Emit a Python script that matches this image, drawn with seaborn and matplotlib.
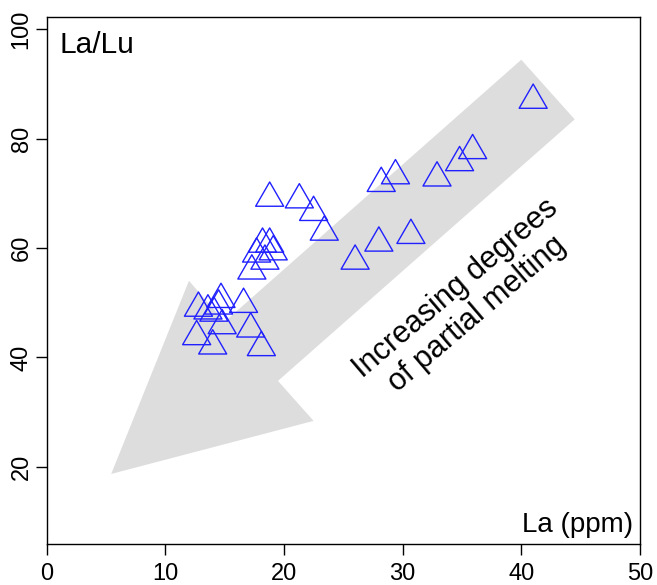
import matplotlib
matplotlib.use("Agg")
import matplotlib.pyplot as plt
from matplotlib.path import Path
import pandas as pd
import seaborn as sns

# La (ppm) and La/Lu
la = [41.0, 35.9, 34.8, 32.9, 29.4, 28.2, 30.7, 28.0, 26.0, 22.5, 23.4, 21.3, 18.8,
      18.2, 18.8, 19.1, 17.7, 18.4, 17.3,
      12.8, 13.6, 14.7, 14.5, 14.1, 16.6, 14.8, 12.65, 14.0, 17.2, 18.1]
la_lu = [87.0, 77.8, 75.6, 72.8, 73.2, 71.8, 62.3, 60.9, 57.6, 66.5, 62.9, 68.8, 69.1,
         60.7, 60.7, 59.3, 58.9, 57.6, 55.8,
         49.0, 48.5, 50.6, 49.4, 48.1, 49.7, 45.8, 43.8, 42.1, 45.2, 41.8]

# outline of the grey arrow, data coordinates
arrow_x = [40.0, 44.5, 19.5, 22.5, 5.45, 12.0, 15.0]
arrow_y = [94.4, 83.5, 35.7, 28.4, 18.7, 54.0, 46.5]

x_ticks = [0, 10, 20, 30, 40, 50]
y_ticks = [20, 40, 60, 80, 100]

df = pd.DataFrame({"La": la, "La/Lu": la_lu})

sns.set_style("white")
plt.rcParams["font.family"] = ["Liberation Sans", "DejaVu Sans"]
plt.rcParams["text.color"] = "black"
plt.rcParams["xtick.color"] = "black"
plt.rcParams["ytick.color"] = "black"

fig = plt.figure(figsize=(6.57, 5.85), dpi=100)
ax = fig.add_axes([0.0708, 0.0701, 0.9033, 0.9008])

ax.fill(arrow_x, arrow_y, color="#dddddd", lw=0, zorder=0)

# open equilateral triangle, like R pch=2
tri = Path([(0, 1), (-0.866, -0.5), (0.866, -0.5), (0, 1)], closed=True)
sns.scatterplot(data=df, x="La", y="La/Lu", marker=tri, s=543, color="blue",
                facecolors="none", edgecolor="#2020ff", linewidth=1.0, ax=ax, zorder=3)

ax.set_xlim(0, 50)
ax.set_ylim(5.9, 102.2)
ax.set_xticks(x_ticks)
ax.set_yticks(y_ticks)
ax.set_xlabel("")
ax.set_ylabel("")
for s in ax.spines.values():
    s.set_color("black")
    s.set_linewidth(1)
ax.tick_params(axis="both", direction="out", length=8, width=1, labelsize=17,
               color="black", labelcolor="black", bottom=True, left=True)
ax.tick_params(axis="x", pad=6)
ax.tick_params(axis="y", pad=2)
for lab in ax.get_yticklabels():
    lab.set_rotation(90)
    lab.set_va("center")

ax.text(0.0227, 0.9317, "La/Lu", transform=ax.transAxes, fontsize=21.5,
        va="baseline", color="black")
ax.text(0.988, 0.0228, "La (ppm)", transform=ax.transAxes, fontsize=20,
        ha="right", va="baseline", color="black")
ax.text(35.35, 50.3, "Increasing degrees\nof partial melting", rotation=40.5,
        rotation_mode="anchor", ha="center", va="center", multialignment="center",
        fontsize=22, linespacing=1.15, color="black")

fig.savefig("out.png", dpi=100)
